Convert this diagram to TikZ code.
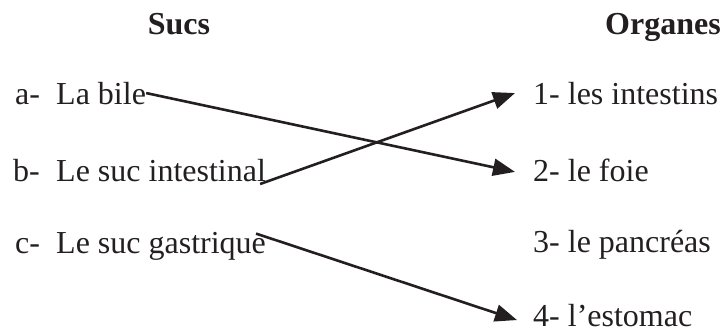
\documentclass[tikz,border=0pt]{standalone}
\usepackage{fontspec}
\setmainfont{Liberation Serif}
\usetikzlibrary{arrows.meta}
\definecolor{encre}{HTML}{231F20}
\begin{document}
\begin{tikzpicture}[x=1pt,y=-1pt,color=encre,
  txt/.style={anchor=base west,inner sep=0pt,font=\fontsize{32}{38}\selectfont},
  titre/.style={anchor=base,inner sep=0pt,font=\fontsize{32}{38}\selectfont\bfseries},
  lien/.style={line width=2.6pt,-{Triangle[length=22pt,width=17pt]}}]
\useasboundingbox (0,0) rectangle (722,332);
% titres
\node[titre] (sucs) at (179,34) {Sucs};
\node[titre] (organes) at (663,34) {Organes};
% sucs
\node[txt] (la) at (15,104) {a-};
\node[txt] (a) at (56,104) {La bile};
\node[txt] (lb) at (13,181) {b-};
\node[txt] (b) at (56,181) {Le suc intestinal};
\node[txt] (lc) at (15,253) {c-};
\node[txt] (c) at (56,253) {Le suc gastrique};
% organes
\node[txt] (o1) at (533,104) {1- les intestins};
\node[txt] (o2) at (533,181) {2- le foie};
\node[txt] (o3) at (533,252) {3- le pancréas};
\node[txt] (o4) at (533,326) {4- l’estomac};
% liaisons
\draw[lien] (a.east) -- ([xshift=-18pt,yshift=-2pt]o2.west);
\draw[lien] ([xshift=-6pt,yshift=-3pt]b.base east) -- ([xshift=-18pt]o1.west);
\draw[lien] ([xshift=-10pt,yshift=-2pt]c.north east) -- ([xshift=-16pt,yshift=-5pt]o4.west);
\end{tikzpicture}
\end{document}
